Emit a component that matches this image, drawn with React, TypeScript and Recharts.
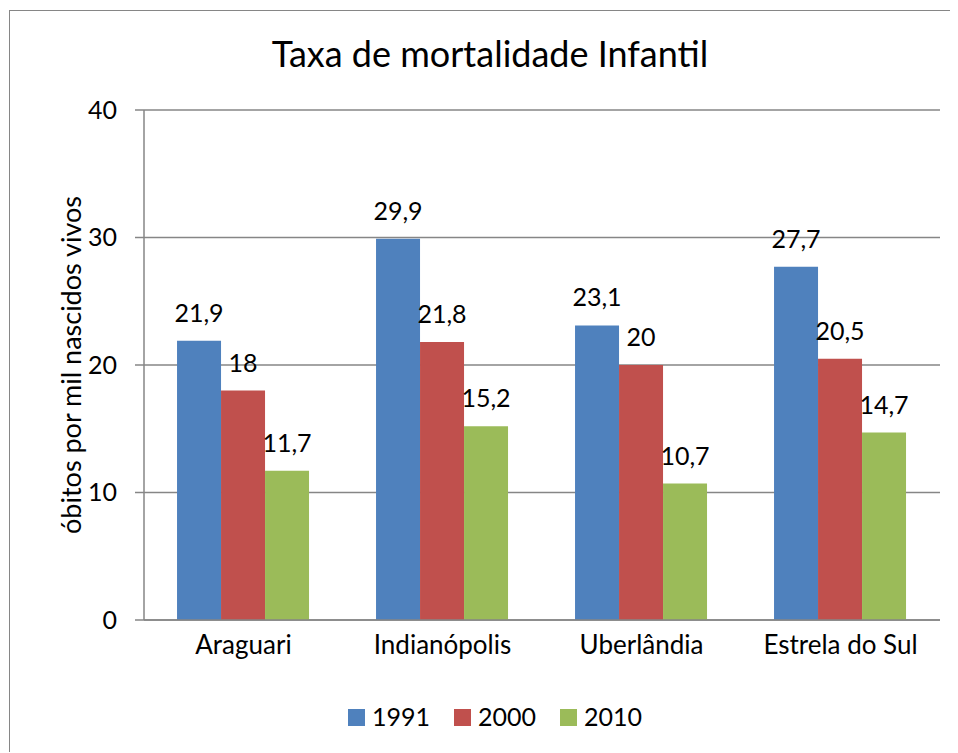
import React from "react";
import { Bar, BarChart, CartesianGrid, LabelList, XAxis, YAxis } from "recharts";

const cities = ["Araguari", "Indianópolis", "Uberlândia", "Estrela do Sul"];
const v1991 = [21.9, 29.9, 23.1, 27.7];
const v2000 = [18, 21.8, 20, 20.5];
const v2010 = [11.7, 15.2, 10.7, 14.7];
const yTicks = [0, 10, 20, 30, 40];

const series = [
  { key: "y1991", name: "1991", values: v1991, color: "#4F81BD" },
  { key: "y2000", name: "2000", values: v2000, color: "#C0504D" },
  { key: "y2010", name: "2010", values: v2010, color: "#9BBB59" },
];

const data = cities.map((city, i) => {
  const row: Record<string, string | number> = { city };
  series.forEach((s) => (row[s.key] = s.values[i]));
  return row;
});

const FONT = "Lato, 'Open Sans', sans-serif";
const GRAY = "#868686";

const fmt = (v: number) => String(v).replace(".", ",");

function ValueLabel(props: any) {
  const { x, y, width, value } = props;
  return (
    <text x={x + width / 2} y={y - 19} textAnchor="middle" fontSize={25} fontFamily={FONT} fill="#000">
      {fmt(value)}
    </text>
  );
}

function YLabel() {
  return (
    <text
      x={62}
      y={357}
      transform="rotate(-90 62 357)"
      textAnchor="middle"
      dominantBaseline="central"
      fontSize={27}
      fontFamily={FONT}
      fill="#000"
    >
      óbitos por mil nascidos vivos
    </text>
  );
}

export default function App() {
  return (
    <div style={{ position: "relative", width: 949, height: 744, overflow: "hidden", background: "#fff" }}>
      <div
        style={{
          position: "absolute",
          left: 1,
          top: 2,
          width: 1000,
          height: 800,
          border: `1px solid ${GRAY}`,
          boxSizing: "border-box",
        }}
      />
      <div style={{ position: "absolute", left: 0, top: 0 }}>
        <BarChart
          width={940}
          height={744}
          data={data}
          margin={{ top: 102, right: 8, bottom: 71, left: 0 }}
          barCategoryGap="16.6%"
          barGap={0}
        >
          <CartesianGrid vertical={false} stroke={GRAY} strokeWidth={1.5} />
          <XAxis
            xAxisId="edge"
            type="number"
            domain={[0, cities.length]}
            ticks={cities.map((_, i) => i).concat(cities.length)}
            height={1}
            axisLine={false}
            tick={false}
            tickLine={{ stroke: GRAY, strokeWidth: 1.5 }}
            tickSize={8}
          />
          <XAxis
            dataKey="city"
            height={60}
            axisLine={{ stroke: GRAY, strokeWidth: 1.5 }}
            tickLine={false}
            tickSize={8}
            tickMargin={8}
            tick={{ fill: "#000", fontSize: 26, fontFamily: FONT }}
          />
          <YAxis
            width={136}
            domain={[0, 40]}
            ticks={yTicks}
            interval={0}
            axisLine={{ stroke: GRAY, strokeWidth: 1.5 }}
            tickLine={{ stroke: GRAY, strokeWidth: 1.5 }}
            tickSize={9}
            tickMargin={18}
            tick={{ fill: "#000", fontSize: 25, fontFamily: FONT }}
          />
          {series.map((s) => (
            <Bar key={s.key} dataKey={s.key} name={s.name} fill={s.color} isAnimationActive={false}>
              <LabelList dataKey={s.key} content={<ValueLabel />} />
            </Bar>
          ))}
          <YLabel />
        </BarChart>
      </div>
      <svg width={949} height={744} style={{ position: "absolute", left: 0, top: 0, pointerEvents: "none" }}>
        <text x={482} y={59} textAnchor="middle" fontSize={36} fontFamily={FONT} fill="#000">
          Taxa de mortalidade Infantil
        </text>
        {series.map((s, i) => (
          <g key={s.key}>
            <rect x={340 + i * 106} y={701} width={17} height={17} fill={s.color} />
            <text x={364 + i * 106} y={718} fontSize={25} fontFamily={FONT} fill="#000">
              {s.name}
            </text>
          </g>
        ))}
      </svg>
    </div>
  );
}
